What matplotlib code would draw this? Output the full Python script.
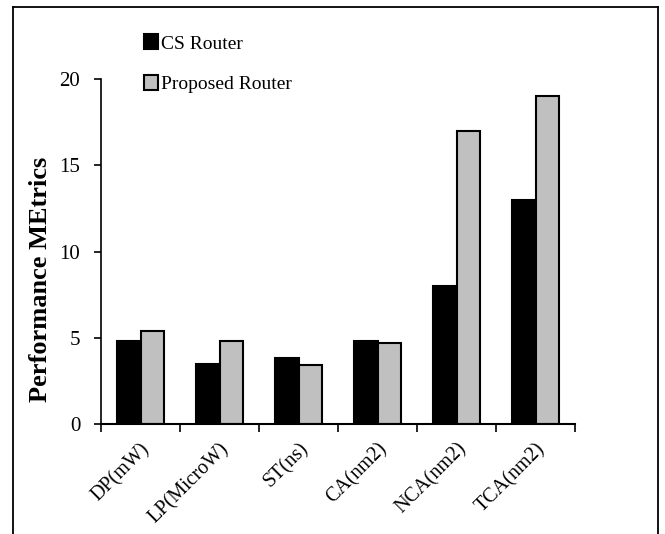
import numpy as np
import matplotlib.pyplot as plt
from matplotlib.lines import Line2D

# data
categories = ['DP(mW)', 'LP(MicroW)', 'ST(ns)', 'CA(nm2)', 'NCA(nm2)', 'TCA(nm2)']
cs_router = [4.8, 3.5, 3.8, 4.8, 8, 13]
proposed_router = [5.4, 4.8, 3.4, 4.7, 17, 19]

plt.rcParams['font.family'] = ['Liberation Serif', 'DejaVu Serif']

fig = plt.figure(figsize=(6.65, 5.34), dpi=100)
ax = fig.add_axes([0.152, 0.206, 0.713, 0.646])

x = np.arange(len(categories))
w = 0.3
b1 = ax.bar(x - w/2, cs_router, w, color='black', edgecolor='black', linewidth=1.5, label='CS Router')
b2 = ax.bar(x + w/2, proposed_router, w, color='#c0c0c0', edgecolor='black', linewidth=1.5, label='Proposed Router')

ax.set_xlim(-0.5, len(categories) - 0.5)
ax.set_ylim(0, 20)
ax.set_yticks([0, 5, 10, 15, 20])
ax.tick_params(axis='y', labelsize=15, direction='out', length=5, width=1.2, pad=10)

# category labels at centres, tick marks at boundaries
ax.set_xticks(x)
ax.set_xticklabels(categories, rotation=45, ha='right', rotation_mode='anchor', fontsize=14.5)
ax.tick_params(axis='x', which='major', length=0, pad=11)
ax.set_xticks(np.arange(-0.5, len(categories), 1), minor=True)
ax.tick_params(axis='x', which='minor', direction='out', length=6, width=1.2)

ax.spines['top'].set_visible(False)
ax.spines['right'].set_visible(False)
ax.spines['left'].set_linewidth(1.2)
ax.spines['bottom'].set_linewidth(1.5)

ax.set_ylabel('Performance MEtrics', fontsize=19, fontweight='bold')
ax.yaxis.set_label_coords(-0.104, 0.42)

fig.legend(handles=[b1, b2], loc='upper left', bbox_to_anchor=(0.205, 0.95),
           frameon=False, fontsize=14, handlelength=0.7, handleheight=0.8,
           handletextpad=0.15, labelspacing=1.15, borderaxespad=0)

# outer frame (no bottom edge)
lw = 1.3
fig.add_artist(Line2D([0.02, 0.02], [0, 0.987], color='black', lw=lw))
fig.add_artist(Line2D([0.02, 0.99], [0.987, 0.987], color='black', lw=lw))
fig.add_artist(Line2D([0.99, 0.99], [0, 0.987], color='black', lw=lw))

fig.savefig('out.png', dpi=100)
